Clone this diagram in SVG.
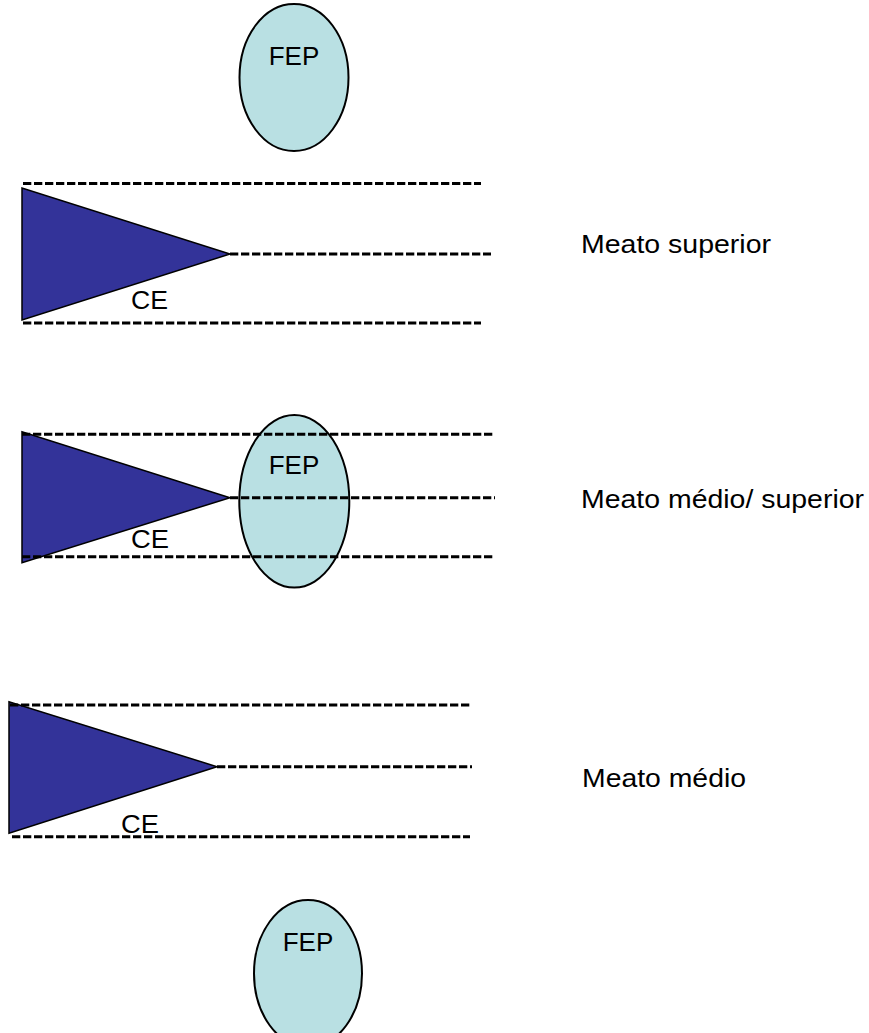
<svg xmlns="http://www.w3.org/2000/svg" width="869" height="1033" viewBox="0 0 869 1033">
<style>
.dash{stroke:#000;stroke-width:3;stroke-dasharray:8.3 2.7;fill:none}
.tri{fill:#333399;stroke:#000;stroke-width:1.5}
.fep{fill:#b9e0e3;stroke:#000;stroke-width:2}
.t{font-family:"Liberation Sans",Arial,sans-serif;font-size:26px;fill:#000}
</style>
<rect width="869" height="1033" fill="#fff"/>
<g id="fep1">
<ellipse class="fep" cx="294" cy="77.5" rx="54.5" ry="73.5"/>
<text class="t" x="294" y="65" text-anchor="middle" font-size="28">FEP</text>
</g>
<g id="ce1">
<polygon class="tri" points="22,188 22,320 230,254"/>
<text class="t" x="131" y="309" textLength="37" lengthAdjust="spacingAndGlyphs">CE</text>
</g>
<g id="label1">
<text class="t" x="581" y="253" textLength="190" lengthAdjust="spacingAndGlyphs">Meato superior</text>
</g>
<g id="ce2">
<polygon class="tri" points="22,431.7 22,562.7 230,497.7"/>
<text class="t" x="131" y="548" textLength="38" lengthAdjust="spacingAndGlyphs">CE</text>
</g>
<g id="fep2">
<ellipse class="fep" cx="294.3" cy="501.3" rx="55" ry="86.3"/>
<text class="t" x="294" y="474" text-anchor="middle" font-size="28">FEP</text>
</g>
<g id="label2">
<text class="t" x="581" y="508" textLength="283" lengthAdjust="spacingAndGlyphs">Meato médio/ superior</text>
</g>
<g id="ce3">
<polygon class="tri" points="9,701.7 9,833.3 217,766.7"/>
<text class="t" x="121" y="833" textLength="38" lengthAdjust="spacingAndGlyphs">CE</text>
</g>
<g id="label3">
<text class="t" x="582" y="787" textLength="164" lengthAdjust="spacingAndGlyphs">Meato médio</text>
</g>
<g id="fep3">
<ellipse class="fep" cx="308" cy="973.5" rx="54" ry="73.5"/>
<text class="t" x="308" y="951" text-anchor="middle" font-size="28">FEP</text>
</g>
<g id="connectors">
<line class="dash" x1="23" y1="183.5" x2="481" y2="183.5"/>
<line class="dash" x1="230" y1="254" x2="491" y2="254"/>
<line class="dash" x1="23" y1="323" x2="481" y2="323"/>
<line class="dash" x1="22" y1="434.3" x2="493" y2="434.3"/>
<line class="dash" x1="230" y1="497.7" x2="495" y2="497.7"/>
<line class="dash" x1="22" y1="556.7" x2="493" y2="556.7"/>
<line class="dash" x1="10" y1="705" x2="470" y2="705"/>
<line class="dash" x1="217" y1="766.7" x2="472" y2="766.7"/>
<line class="dash" x1="12" y1="836.7" x2="470" y2="836.7"/>
</g>
</svg>
